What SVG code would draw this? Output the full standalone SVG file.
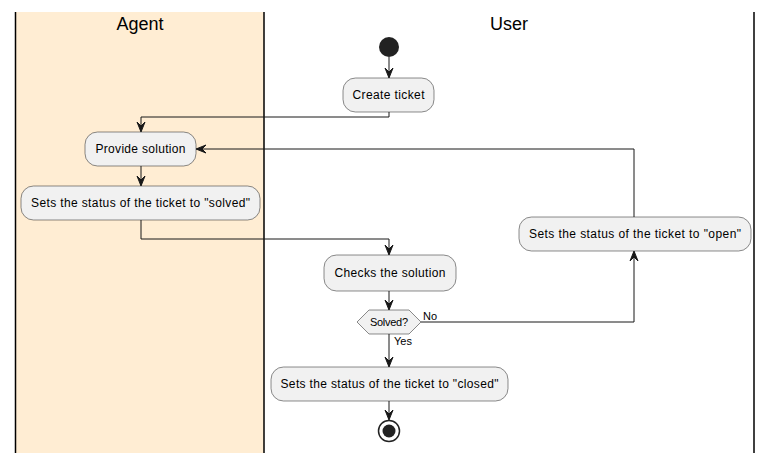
<svg xmlns="http://www.w3.org/2000/svg" width="773" height="453" viewBox="0 0 773 453">
<defs>
<style>
.box{fill:#F1F1F1;stroke:#181818;stroke-width:0.5}
.t{font-family:"Liberation Sans",Arial,sans-serif;font-size:12px;fill:#000;text-anchor:middle}
.lbl{font-family:"Liberation Sans",Arial,sans-serif;font-size:11px;fill:#000}
.title{font-family:"Liberation Sans",Arial,sans-serif;font-size:18px;fill:#000;text-anchor:middle}
.lane{stroke:#000;stroke-width:1.5}
.c{fill:none;stroke:#181818;stroke-width:1}
.ah{fill:#181818;stroke:#181818;stroke-width:1}
</style>
</defs>
<rect width="773" height="453" fill="#FFFFFF"/>
<g id="lanes">
<rect x="15" y="12" width="249" height="441" fill="#FFEDD3"/>
<line class="lane" x1="15.5" y1="12" x2="15.5" y2="453"/>
<line class="lane" x1="264" y1="12" x2="264" y2="453"/>
<line class="lane" x1="754" y1="12" x2="754" y2="453"/>
<text class="title" x="140" y="30">Agent</text>
<text class="title" x="509" y="30">User</text>
</g>
<g id="connectors">
<line class="c" x1="389" y1="57" x2="389" y2="77"/>
<polygon class="ah" points="385,68 389,78 393,68 389,72"/>
<polyline class="c" points="389,112 389,117 141,117 141,131"/>
<polygon class="ah" points="137,122 141,132 145,122 141,126"/>
<line class="c" x1="141" y1="166" x2="141" y2="185"/>
<polygon class="ah" points="137,176 141,186 145,176 141,180"/>
<polyline class="c" points="141,220 141,239 389,239 389,254"/>
<polygon class="ah" points="385,245 389,255 393,245 389,249"/>
<line class="c" x1="389" y1="291" x2="389" y2="309"/>
<polygon class="ah" points="385,300 389,310 393,300 389,304"/>
<polyline class="c" points="421,322 634,322 634,252"/>
<polygon class="ah" points="630,261 634,251 638,261 634,257"/>
<polyline class="c" points="634,217 634,149 197,149"/>
<polygon class="ah" points="206,145 196,149 206,153 202,149"/>
<line class="c" x1="389" y1="334" x2="389" y2="366"/>
<polygon class="ah" points="385,357 389,367 393,357 389,361"/>
<line class="c" x1="389" y1="401" x2="389" y2="419"/>
<polygon class="ah" points="385,410 389,420 393,410 389,414"/>
<text class="lbl" x="423" y="320">No</text>
<text class="lbl" x="394" y="345">Yes</text>
</g>
<g id="start"><circle cx="389" cy="47" r="10" fill="#222222"/></g>
<g id="create">
<rect class="box" x="343" y="78" width="91" height="34" rx="12.5"/>
<text class="t" x="388.5" y="99" textLength="72">Create ticket</text>
</g>
<g id="provide">
<rect class="box" x="85" y="132" width="111" height="34" rx="12.5"/>
<text class="t" x="140.5" y="153" textLength="90">Provide solution</text>
</g>
<g id="solved">
<rect class="box" x="21" y="186" width="239" height="34" rx="12.5"/>
<text class="t" x="140.5" y="207" textLength="219">Sets the status of the ticket to "solved"</text>
</g>
<g id="checks">
<rect class="box" x="324" y="255" width="132" height="36" rx="12.5"/>
<text class="t" x="390" y="277" textLength="111">Checks the solution</text>
</g>
<g id="decision">
<polygon class="box" points="357,322 369,310 409,310 421,322 409,334 369,334"/>
<text class="lbl" x="389" y="326" text-anchor="middle" textLength="38">Solved?</text>
</g>
<g id="open">
<rect class="box" x="519" y="217" width="232" height="34" rx="12.5"/>
<text class="t" x="635" y="238" textLength="212">Sets the status of the ticket to "open"</text>
</g>
<g id="closed">
<rect class="box" x="271" y="367" width="237" height="34" rx="12.5"/>
<text class="t" x="389.5" y="388" textLength="218">Sets the status of the ticket to "closed"</text>
</g>
<g id="end">
<circle cx="389" cy="431" r="10.5" fill="none" stroke="#222222" stroke-width="1.5"/>
<circle cx="389" cy="431" r="6.5" fill="#222222"/>
</g>
</svg>
